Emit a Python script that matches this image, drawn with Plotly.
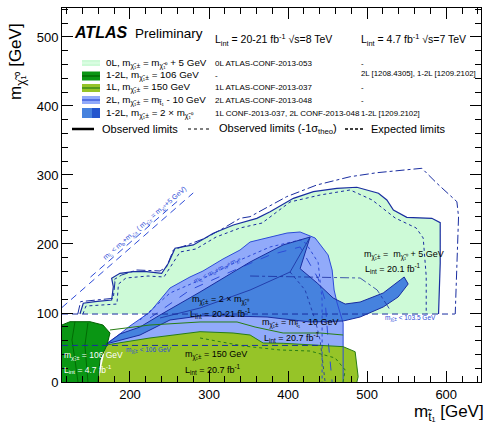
import plotly.graph_objects as go

FONT = "Liberation Sans, Arial, Helvetica, sans-serif"

# ---------------------------------------------------------------- axes
X_RANGE = [114, 644]
Y_RANGE = [0, 542]

# ---------------------------------------------------------------- 0L, m(chi+-) = m(chi0) + 5 GeV
zl_obs_x = [136.7, 140.9, 155.7, 176.8, 178.9, 176.8, 187.3, 204.2, 221.1, 240.1, 248.5, 257.0, 280.1,
            305.4, 330.8, 360.4, 377.2, 406.7, 432.0, 461.6, 487.0, 514.3, 524.9, 533.2, 550.1, 581.8,
            592.4, 592.4, 590.3]
zl_obs_y = [98.5, 114.1, 116.4, 118.8, 138.1, 150.3, 157.5, 159.9, 159.9, 157.5, 172.0, 193.8, 198.6,
            215.5, 227.5, 237.2, 246.8, 266.2, 275.8, 280.7, 282.2, 273.5, 263.8, 249.3, 238.7, 237.2,
            230.9, 172.0, 98.5]
zl_exp_x = [134.0, 137.5, 178.9, 181.0, 178.9, 189.5, 208.5, 238.0, 246.5, 254.8, 278.0, 294.9, 318.1,
            339.2, 351.9, 398.2, 436.3, 478.5, 512.3, 558.6, 569.2, 588.2, 613.5, 615.6, 611.4]
zl_exp_y = [98.5, 116.5, 121.3, 145.4, 147.8, 155.1, 162.3, 160.9, 167.1, 191.3, 201.0, 208.3, 222.8,
            237.2, 239.6, 268.6, 285.5, 297.5, 303.3, 308.3, 309.7, 288.0, 261.3, 239.6, 98.5]
zl_m1s_x = [140.5, 144.3, 183.5, 185.4, 194.9, 222.8, 243.0, 253.2, 263.3, 283.5, 308.9, 339.2, 367.1,
            402.5, 440.5, 478.5, 506.3, 535.4, 562.0, 570.9, 574.7, 574.7]
zl_m1s_y = [98.5, 110.1, 113.0, 142.0, 150.7, 153.6, 152.2, 169.6, 188.4, 192.8, 210.1, 223.2, 230.4,
            260.9, 271.0, 278.3, 263.8, 237.7, 223.2, 208.7, 153.6, 98.5]

# ---------------------------------------------------------------- 2L, m(chi+-) = m(stop) - 10 GeV
tl_obs_x = [162.0, 169.6, 200.0, 225.3, 250.6, 275.9, 292.4, 317.7, 339.2, 351.9, 377.2, 398.7, 415.2,
            434.2, 450.6, 455.7, 458.2, 462.0, 469.6, 469.6, 162.0]
tl_obs_y = [0.0, 53.6, 81.2, 101.4, 136.2, 152.2, 160.9, 178.3, 191.3, 202.9, 210.1, 215.9, 217.4,
            208.7, 184.1, 162.3, 133.3, 114.5, 85.5, 0.0, 0.0]
tl_m1s_x = [212.7, 250.6, 288.6, 339.2, 377.2, 415.2, 422.8, 438.0, 443.0, 443.0]
tl_m1s_y = [89.9, 128.9, 147.8, 176.8, 195.7, 205.8, 200.7, 173.2, 118.8, 0.0]
tl_exp_x = [225.3, 275.9, 326.6, 377.2, 415.2, 438.0, 446.8, 450.6, 455.7]
tl_exp_y = [92.8, 133.3, 159.4, 184.1, 195.7, 150.0, 118.8, 60.9, 0.0]

# ---------------------------------------------------------------- 1-2L, m(chi+-) = 2 x m(chi0)
dm_obs_x = [169.6, 187.3, 212.7, 238.0, 288.6, 351.9, 393.7, 427.8, 415.2, 436.7, 457.0, 472.2, 491.1,
            507.6, 520.3, 541.8, 546.8, 551.9, 539.2, 520.3, 491.1, 469.6, 427.8, 373.4, 326.6, 288.6,
            250.6, 212.7, 181.0, 169.6]
dm_obs_y = [55.1, 69.6, 79.7, 97.1, 130.4, 173.9, 198.6, 210.1, 164.2, 143.5, 121.7, 113.0, 115.9,
            123.2, 129.0, 147.8, 152.2, 142.0, 123.2, 108.7, 94.2, 88.4, 87.0, 94.2, 95.7, 95.7,
            89.9, 68.1, 58.0, 55.1]
dm_inner_x = [238.0, 288.6, 351.9, 402.5, 427.8]
dm_inner_y = [92.8, 107.2, 133.3, 159.4, 210.1]
dm_m1s_x = [402.5, 421.5, 434.2, 440.5, 446.8]
dm_m1s_y = [159.4, 133.3, 89.9, 60.9, 0.0]
dm_exp_x = [351.9, 427.8, 465.8, 491.1, 512.7, 529.1]
dm_exp_y = [153.6, 152.2, 150.7, 150.7, 133.3, 104.3]

# ---------------------------------------------------------------- 1L, m(chi+-) = 150 GeV
ol_obs_x = [159.5, 169.6, 225.3, 288.6, 330.4, 351.9, 368.4, 393.7, 427.8, 469.6, 484.8, 488.6, 487.0, 159.5]
ol_obs_y = [0.0, 53.6, 63.8, 72.9, 71.0, 68.1, 56.5, 56.1, 53.6, 51.2, 43.9, 7.7, 0.0, 0.0]
ol_m1s_x = [288.6, 343.0, 389.9, 427.8, 459.5, 472.2, 469.6]
ol_m1s_y = [63.8, 52.2, 46.4, 44.9, 34.8, 17.4, 0.0]
ol_upper_x = [174.7, 225.3, 288.6, 335.4, 358.2, 393.7, 440.5, 469.6]
ol_upper_y = [75.4, 82.6, 87.0, 87.0, 79.7, 71.0, 71.0, 68.1]

# ---------------------------------------------------------------- 1-2L, m(chi+-) = 106 GeV (7 TeV)
sv_obs_x = [110.0, 113.9, 124.1, 149.4, 165.8, 174.7, 170.9, 162.0, 159.5, 110.0]
sv_obs_y = [82.6, 82.6, 87.4, 87.4, 82.6, 71.0, 53.6, 31.9, 0.0, 0.0]
sv_in1_x = [130.4, 126.6, 130.4, 134.2]
sv_in1_y = [87.4, 60.9, 31.9, 0.0]
sv_in2_x = [146.8, 143.0, 146.8]
sv_in2_y = [85.5, 53.6, 0.0]

# ---------------------------------------------------------------- chargino mass limits and kinematic lines
lep_limit_a = 98.5      # m(chi+-) < 103.5 GeV with 5 GeV splitting
lep_limit_a_x = [114.0, 611.0]
lep_limit_b = 53.0      # m(chi+-) < 106 GeV with m(chi+-) = 2 m(chi0)
lep_limit_b_x = [114.0, 444.0]
kin1_x = [114.0, 280.0]
kin1_y = [108.0, 274.0]
kin2_x = [150.0, 262.0]
kin2_y = [152.0, 264.0]

# ---------------------------------------------------------------- legend content
legend_labels = [
    "0L, m<sub>χ̃₁±</sub> = m<sub>χ̃₁⁰</sub> + 5 GeV",
    "1-2L, m<sub>χ̃₁±</sub> = 106 GeV",
    "1L, m<sub>χ̃₁±</sub> = 150 GeV",
    "2L, m<sub>χ̃₁±</sub> = m<sub>t̃₁</sub> - 10 GeV",
    "1-2L, m<sub>χ̃₁±</sub> = 2 × m<sub>χ̃₁⁰</sub>",
]
refs_8tev = ["0L ATLAS-CONF-2013-053", "-", "1L ATLAS-CONF-2013-037", "2L ATLAS-CONF-2013-048",
             "1L CONF-2013-037, 2L CONF-2013-048"]
refs_7tev = ["-", "2L [1208.4305], 1-2L [1209.2102]", "-", "-", "1-2L [1209.2102]"]

C_ZL = "rgb(205,250,215)"
C_SV = "rgb(10,150,20)"
C_OL = "rgb(150,196,40)"
C_TL = "rgb(145,170,250)"
C_DM = "rgb(70,130,222)"
C_DM2 = "rgb(35,85,205)"
C_NAVY = "rgb(25,45,160)"
C_BLUE = "rgb(45,75,215)"
C_GREEN = "rgb(40,125,20)"
C_DGREEN = "rgb(0,95,0)"

swatch_fill = [C_ZL, C_SV, C_OL, C_TL, C_DM]
swatch_line = ["rgb(225,255,232)", C_DGREEN, C_GREEN, C_BLUE, C_DM2]

# ---------------------------------------------------------------- figure
W, H = 486, 427
ML, MR, MT, MB = 62, 5, 8, 45
PW, PH = W - ML - MR, H - MT - MB


def px2paper_x(px):
    return (px - ML) / PW


def px2paper_y(py):
    return (H - MB - py) / PH


fig = go.Figure()


def region(x, y, color):
    fig.add_trace(go.Scatter(x=x, y=y, mode="lines", fill="toself", fillcolor=color,
                             line=dict(width=0), hoverinfo="skip", showlegend=False))


def curve(x, y, color, width=1.0, dash="solid"):
    fig.add_trace(go.Scatter(x=x, y=y, mode="lines", line=dict(color=color, width=width, dash=dash),
                             hoverinfo="skip", showlegend=False))


# filled exclusion regions
region(zl_obs_x, zl_obs_y, C_ZL)
region(tl_obs_x, tl_obs_y, C_TL)
region(dm_obs_x, dm_obs_y, C_DM)
region(ol_obs_x, ol_obs_y, C_OL)
region(sv_obs_x, sv_obs_y, C_SV)

# contours
curve(zl_obs_x, zl_obs_y, C_NAVY, 1.2)
curve(zl_m1s_x, zl_m1s_y, C_NAVY, 1.0, "dot")
curve(zl_exp_x, zl_exp_y, C_NAVY, 1.0, "dashdot")

curve(tl_obs_x[1:-1], tl_obs_y[1:-1], C_BLUE, 1.0)
curve(tl_m1s_x, tl_m1s_y, C_BLUE, 1.0, "dot")
curve(tl_exp_x, tl_exp_y, C_BLUE, 1.0, "dash")

curve(dm_obs_x, dm_obs_y, C_NAVY, 1.0)
curve(dm_inner_x, dm_inner_y, C_NAVY, 0.8)
curve(dm_m1s_x, dm_m1s_y, C_NAVY, 0.8, "dot")
curve(dm_exp_x, dm_exp_y, C_NAVY, 0.8, "dashdot")

curve(ol_obs_x[1:-1], ol_obs_y[1:-1], C_GREEN, 1.0)
curve(ol_m1s_x, ol_m1s_y, C_GREEN, 1.0, "dot")
curve(ol_upper_x, ol_upper_y, C_GREEN, 1.0)

curve(sv_obs_x[:-1], sv_obs_y[:-1], C_DGREEN, 1.0)
curve(sv_in1_x, sv_in1_y, C_DGREEN, 0.8)
curve(sv_in2_x, sv_in2_y, C_DGREEN, 0.8)

curve(lep_limit_a_x, [lep_limit_a] * 2, C_NAVY, 1.0, "6px,4px")
curve(lep_limit_b_x, [lep_limit_b] * 2, C_NAVY, 1.0, "6px,4px")
curve(kin1_x, kin1_y, C_BLUE, 1.0, "7px,5px")
curve(kin2_x, kin2_y, C_BLUE, 1.0, "7px,5px")

annotations = []


def label(x, y, text, size=9.0, color="black", xanchor="left", angle=0, ref="data"):
    annotations.append(dict(
        x=x, y=y, xref="x" if ref == "data" else "paper", yref="y" if ref == "data" else "paper",
        text=text, showarrow=False, xanchor=xanchor, yanchor="middle", textangle=angle,
        font=dict(family=FONT, size=size, color=color)))


# region labels
label(493.7, 184.1, "m<sub>χ̃₁±</sub> =  m<sub>χ̃₁⁰</sub> + 5 GeV")
label(494.9, 165.2, "L<sub>int</sub> = 20.1 fb<sup>-1</sup>")
label(275.9, 118.8, "m<sub>χ̃₁±</sub> = 2 × m<sub>χ̃₁⁰</sub>")
label(273.4, 100.0, "L<sub>int</sub> = 20-21 fb<sup>-1</sup>")
label(364.6, 85.5, "m<sub>χ̃₁±</sub> = m<sub>t̃₁</sub> - 10 GeV")
label(367.1, 65.2, "L<sub>int</sub> = 20.7 fb<sup>-1</sup>")
label(267.1, 39.1, "m<sub>χ̃₁±</sub> = 150 GeV")
label(267.1, 17.4, "L<sub>int</sub> = 20.7 fb<sup>-1</sup>")
label(114.5, 39.1, "m<sub>χ̃₁±</sub> = 106 GeV", size=8.5, color="white")
label(114.5, 18.8, "L<sub>int</sub> = 4.7 fb<sup>-1</sup>", size=8.5, color="white")
label(193.0, 46.5, "m<sub>χ̃₁±</sub> < 106 GeV", size=6.5, color=C_BLUE)
label(520.3, 92.8, "m<sub>χ̃₁±</sub> < 103.5 GeV", size=6.5, color=C_BLUE)
label(219.0, 230.4, "m<sub>t̃₁</sub> < m<sub>b</sub>+m<sub>χ̃₁±</sub> ( m<sub>χ̃₁±</sub> = m<sub>χ̃₁⁰</sub>+5 GeV)",
      size=7, color=C_BLUE, xanchor="center", angle=-41)
label(310.0, 163.0, "m<sub>t̃₁</sub> < m<sub>b</sub>+m<sub>W</sub>+m<sub>χ̃₁⁰</sub>",
      size=6.5, color=C_BLUE, xanchor="center", angle=-27)

# header
label(px2paper_x(72), px2paper_y(32), "<b><i>ATLAS</i></b>", size=16, ref="paper")
label(px2paper_x(133), px2paper_y(33), "Preliminary", size=13.5, ref="paper")
label(px2paper_x(213), px2paper_y(40), "L<sub>int</sub> = 20-21 fb<sup>-1</sup> √s=8 TeV", size=10.5, ref="paper")
label(px2paper_x(359), px2paper_y(40), "L<sub>int</sub> = 4.7 fb<sup>-1</sup> √s=7 TeV", size=10.5, ref="paper")

# legend rows
row_y = [63, 76, 88, 100, 113]
swatch_h = [6, 9, 8, 8, 10]
shapes = []
for i, yy in enumerate(row_y):
    label(px2paper_x(104), px2paper_y(yy), legend_labels[i], size=9.8, ref="paper")
    label(px2paper_x(213), px2paper_y(yy), refs_8tev[i], size=8.0, ref="paper")
    label(px2paper_x(359), px2paper_y(yy - (3 if i == 1 else 0)), refs_7tev[i], size=7.8, ref="paper")
    h = swatch_h[i] / 2
    shapes.append(dict(type="rect", xref="paper", yref="paper", x0=px2paper_x(82), x1=px2paper_x(100),
                       y0=px2paper_y(yy + h), y1=px2paper_y(yy - h), fillcolor=swatch_fill[i],
                       line=dict(width=0), layer="above"))
    if i == 4:
        shapes.append(dict(type="rect", xref="paper", yref="paper", x0=px2paper_x(92), x1=px2paper_x(100),
                           y0=px2paper_y(yy + h), y1=px2paper_y(yy - h), fillcolor=C_DM2,
                           line=dict(width=0), layer="above"))
    else:
        shapes.append(dict(type="line", xref="paper", yref="paper", x0=px2paper_x(82), x1=px2paper_x(100),
                           y0=px2paper_y(yy), y1=px2paper_y(yy), line=dict(color=swatch_line[i], width=1.2),
                           layer="above"))

# line-style legend
ly = 129
for (x0, x1, dash, width, tx, text) in [
    (72, 94, "solid", 2.5, 100, "Observed limits"),
    (188, 212, "dot", 1.2, 217, "Observed limits (-1σ<sub>theo</sub>)"),
    (345, 363, "3px,2px", 1.6, 369, "Expected limits"),
]:
    shapes.append(dict(type="line", xref="paper", yref="paper", x0=px2paper_x(x0), x1=px2paper_x(x1),
                       y0=px2paper_y(ly), y1=px2paper_y(ly), line=dict(color="black", width=width, dash=dash),
                       layer="above"))
    label(px2paper_x(tx), px2paper_y(ly), text, size=11, ref="paper")

# axis titles
annotations.append(dict(x=px2paper_x(17), y=px2paper_y(62), xref="paper", yref="paper",
                        text="m<sub>χ̃₁⁰</sub> [GeV]", textangle=-90, showarrow=False,
                        xanchor="center", yanchor="middle", font=dict(family=FONT, size=17, color="black")))
annotations.append(dict(x=1, y=px2paper_y(413), xref="paper", yref="paper", xshift=5,
                        text="m<sub>t̃₁</sub> [GeV]", showarrow=False,
                        xanchor="right", yanchor="middle", font=dict(family=FONT, size=17, color="black")))

axis_common = dict(showline=True, linecolor="black", linewidth=1, mirror="allticks", ticks="inside",
                   ticklen=11, tickwidth=1, tickcolor="black", showgrid=False, zeroline=False,
                   tickfont=dict(family=FONT, size=13, color="black"),
                   minor=dict(ticks="inside", ticklen=6, tickwidth=1, tickcolor="black", dtick=20, tick0=0,
                              showgrid=False))

fig.update_layout(
    width=W, height=H, margin=dict(l=ML, r=MR, t=MT, b=MB),
    paper_bgcolor="white", plot_bgcolor="white",
    xaxis=dict(range=X_RANGE, dtick=100, tick0=0, **axis_common),
    yaxis=dict(range=Y_RANGE, dtick=100, tick0=0, **axis_common),
    annotations=annotations, shapes=shapes, showlegend=False,
)

fig.write_html("out.html")
